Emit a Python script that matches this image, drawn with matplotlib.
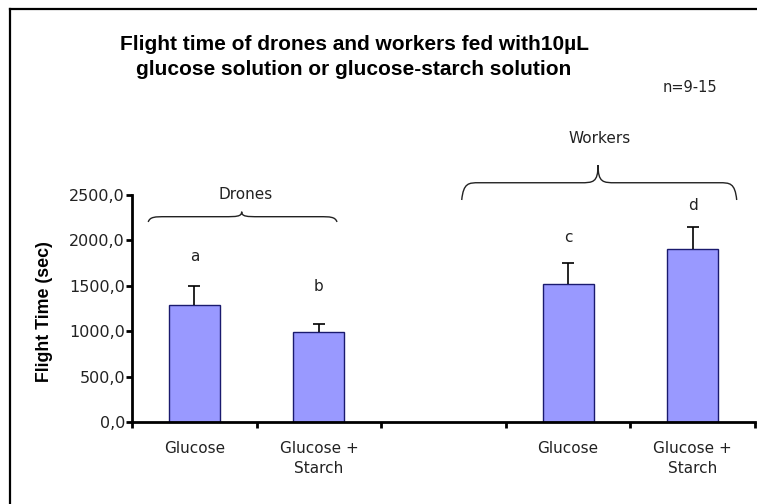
import matplotlib as mpl
mpl.use('Agg')
import matplotlib.pyplot as plt
from matplotlib.path import Path
from matplotlib.patches import PathPatch
from matplotlib.lines import Line2D
from matplotlib.ticker import FuncFormatter
import numpy as np

# Data
groups = ['Drones', 'Workers']
treatments = ['Glucose', 'Glucose +\nStarch', '', 'Glucose', 'Glucose +\nStarch']
bar_slots = [0, 1, 3, 4]
flight_time = [1290, 990, 1515, 1900]
flight_err = [210, 90, 235, 250]
letters = ['a', 'b', 'c', 'd']


def brace(ax, x0, x1, y_end, y_flat, y_tip, xm=None):
    # curly brace opening downward, drawn in data coords
    if xm is None:
        xm = (x0 + x1) / 2
    r = 0.14
    verts = [(x0, y_end),
             (x0 + r * 0.1, y_flat), (x0 + r * 0.4, y_flat), (x0 + r, y_flat),
             (xm - r, y_flat),
             (xm - r * 0.3, y_flat), (xm, y_flat), (xm, y_tip),
             (xm, y_flat), (xm + r * 0.3, y_flat), (xm + r, y_flat),
             (x1 - r, y_flat),
             (x1 - r * 0.4, y_flat), (x1 - r * 0.1, y_flat), (x1, y_end)]
    codes = [Path.MOVETO,
             Path.CURVE4, Path.CURVE4, Path.CURVE4,
             Path.LINETO,
             Path.CURVE4, Path.CURVE4, Path.CURVE4,
             Path.CURVE4, Path.CURVE4, Path.CURVE4,
             Path.LINETO,
             Path.CURVE4, Path.CURVE4, Path.CURVE4]
    ax.add_patch(PathPatch(Path(verts, codes), fill=False, lw=1.0,
                           color='#222222', clip_on=False))


fig = plt.figure(figsize=(7.57, 5.04), dpi=100)
ax = fig.add_axes([0.1744, 0.1627, 0.823, 0.4504])

ax.bar(bar_slots, flight_time, width=0.41, color='#9999FF',
       edgecolor='#1a1a6e', linewidth=1.0, zorder=2)
eb = ax.errorbar(bar_slots, flight_time,
                 yerr=[np.zeros(len(flight_err)), flight_err],
                 fmt='none', ecolor='black', elinewidth=1.2, capsize=4,
                 capthick=1.2, zorder=3)
eb[1][0].set_visible(False)  # no cap at the bar top

# significance letters
letter_y = [1820, 1490, 2030, 2380]
for x, y, s in zip(bar_slots, letter_y, letters):
    ax.text(x, y, s, ha='center', va='center', fontsize=11,
            family='DejaVu Sans', color='#222222')

ax.set_xlim(-0.5, 4.5)
ax.set_ylim(0, 2500)
ax.set_yticks(np.arange(0, 2501, 500))
ax.yaxis.set_major_formatter(FuncFormatter(lambda v, p: '{:.1f}'.format(v).replace('.', ',')))

ax.set_xticks(np.arange(-0.5, 4.6, 1.0))
ax.set_xticklabels([])
ax.set_xticks(range(len(treatments)), minor=True)
ax.set_xticklabels(treatments, minor=True, family='DejaVu Sans', fontsize=11,
                   color='#222222', linespacing=1.35)
ax.tick_params(axis='x', which='minor', length=0, pad=14)
ax.tick_params(axis='x', which='major', length=4, width=2, direction='out')
ax.tick_params(axis='y', length=4, width=2, direction='out', pad=1,
               labelsize=11.5, labelcolor='#222222')
for lab in ax.get_yticklabels():
    lab.set_family('DejaVu Sans')

for side in ['top', 'right']:
    ax.spines[side].set_visible(False)
for side in ['left', 'bottom']:
    ax.spines[side].set_linewidth(2)

# group braces and labels
brace(ax, -0.37, 1.145, 2203, 2261, 2316, xm=0.38)
brace(ax, 2.146, 4.353, 2445, 2635, 2830, xm=3.24)
ax.text(0.41, 2500, groups[0], ha='center', va='center', fontsize=11,
        family='DejaVu Sans', color='#222222', clip_on=False)
ax.text(3.25, 3117, groups[1], ha='center', va='center', fontsize=11,
        family='DejaVu Sans', color='#222222', clip_on=False)
fig.text(690 / 757, 1 - 88 / 504, 'n=9-15', ha='center', va='center',
         fontsize=10.5, family='DejaVu Sans', color='#222222')

fig.text(0.0588, 1 - 312 / 504, 'Flight Time (sec)', rotation=90,
         ha='center', va='center', fontsize=12.8, fontweight='bold',
         family='Liberation Sans')

fig.text(354 / 757, 1 - 57 / 504,
         'Flight time of drones and workers fed with10\u00b5L\nglucose solution or glucose-starch solution',
         ha='center', va='center', fontsize=15, fontweight='bold',
         family='Liberation Sans', linespacing=1.35)

# outer frame (top and left only)
fig.add_artist(Line2D([10 / 757, 1.0], [1 - 9 / 504, 1 - 9 / 504],
                      transform=fig.transFigure, color='black', lw=1.6))
fig.add_artist(Line2D([10 / 757, 10 / 757], [1 - 9 / 504, 0.0],
                      transform=fig.transFigure, color='black', lw=1.6))

fig.savefig('out.png', dpi=100)
